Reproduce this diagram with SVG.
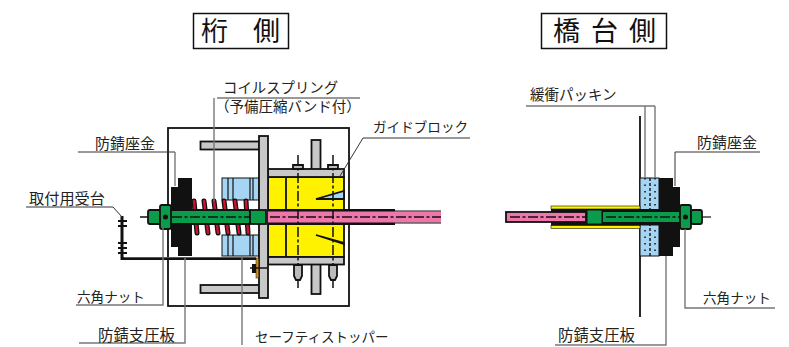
<svg xmlns="http://www.w3.org/2000/svg" width="789" height="347" viewBox="0 0 789 347">
<style>
text{font-family:"Liberation Sans","Noto Sans CJK JP",sans-serif;font-size:14.500px;fill:#222}
.t{font-size:27px;fill:#111}
.tb{fill:#fff;stroke:#111;stroke-width:1.500}
.k{stroke:#111;stroke-width:1.800}
.g{fill:#c8c8c8}.b{fill:#a5d5f2}.y{fill:#fff200}.p{fill:#ee76aa}.gr{fill:#0a9c4a}
.bk{fill:#111}
.l{fill:none;stroke:#333;stroke-width:1}
.lg{fill:none;stroke:#777;stroke-width:1.400}
.cl{fill:none;stroke:#111;stroke-width:1.500;stroke-dasharray:10 2.500 3 2.500}
.sp{fill:none;stroke:#111;stroke-width:5;stroke-linecap:round}
.sr{fill:none;stroke:#d01030;stroke-width:2.400;stroke-linecap:round}
</style>
<g id="title-girder"><rect class="tb" x="193.500" y="13.500" width="95" height="35"/><text class="t" x="201" y="41">桁</text><text class="t" x="253" y="41">側</text></g>
<g id="title-abutment"><rect class="tb" x="541.500" y="13.500" width="125" height="35"/><text class="t" x="553" y="41">橋</text><text class="t" x="591" y="41">台</text><text class="t" x="629" y="41">側</text></g>

<g id="girder-assembly">
<rect x="168" y="128" width="181" height="178" fill="#fff" stroke="#111" stroke-width="1.800"/>
<rect class="g k" x="200.500" y="141.500" width="59" height="8"/>
<rect class="g k" x="200.500" y="285" width="59" height="8"/>
<rect class="g k" x="311.500" y="140" width="9" height="30"/>
<rect class="g k" x="311.500" y="264" width="9" height="30"/>
<rect class="b" x="222" y="178" width="37" height="22" stroke="#111"/>
<rect class="b" x="222" y="235" width="37" height="21" stroke="#111"/>
<path stroke="#111" stroke-width="1.200" fill="none" d="M228 178V200M233 178V200M250 178V200M253 178V200M228 235V256M233 235V256M250 235V256M253 235V256"/>
<rect class="y k" x="268" y="177" width="76" height="80"/>
<path class="k" d="M286 177V257" fill="none"/>
<path class="b k" d="M316 199L344 191V199ZM316 235L344 244V243Z"/>
<rect class="g k" x="268" y="169" width="76" height="8"/>
<rect class="g k" x="268" y="257" width="76" height="7.500"/>
<rect x="259" y="136" width="9" height="162" class="g k"/>
<rect x="268" y="209" width="127" height="16" class="bk"/>
<rect x="268" y="211.500" width="173" height="11" class="p"/>
<path d="M395 211H441M395 223H441" stroke="#111" stroke-width="1"/>
<path d="M270 217H441" class="cl"/>
<path d="M298 155V288M333 155V288" class="cl"/>
<path class="k" fill="#bbb" d="M293 165H303V169H293ZM328 165H338V169H328ZM294 265H302V276L300 280H296L294 276ZM329 265H337V276L335 280H331L329 276Z"/>
<g id="spring"><path class="sp" d="M194 201L197 233M204 201L208 233M214 201L218 233M224 201L228 233M235 201L239 233M246 201L248 233"/><path class="sr" d="M194 201L197 233M204 201L208 233M214 201L218 233M224 201L228 233M235 201L239 233M246 201L248 233"/></g>
<path class="bk" d="M171 187H178V178H192V256H178V247H171Z"/>
<rect class="gr k" x="148" y="210" width="102" height="14" rx="2"/>
<rect class="gr k" x="250" y="210" width="16" height="14"/>
<rect class="gr k" x="160" y="205" width="11" height="24" rx="2"/>
<circle cx="165.500" cy="217" r="2.500" class="bk"/>
<path d="M140 217H148M172 217H250" class="cl"/>
<path d="M122 216V258.500H256" fill="none" stroke="#111" stroke-width="3"/>
<path d="M124 257.500H256" stroke="#7a5510" stroke-width="1"/>
<path d="M118 221H127M118 226H127M118 243H127M118 248H127M118 253H127" stroke="#111" stroke-width="2"/>
<rect x="256" y="258" width="2.800" height="20" fill="#d4921c" stroke="#111" stroke-width="0.500"/>
<path d="M250 268H268" stroke="#111" stroke-width="1.500"/><rect x="252" y="264" width="4" height="9" class="bk"/>
</g>

<g id="abutment-assembly">
<path d="M640 116V317" stroke="#111" stroke-width="1.800"/>
<rect class="b" x="640" y="178" width="19" height="78" stroke="#111"/>
<path d="M650 178V256" stroke="#111" stroke-width="1.400" stroke-dasharray="3 2"/>
<path d="M645 178V256M655 178V256" stroke="#111" stroke-width="1.500" stroke-dasharray="1.500 5"/>
<path class="bk" d="M659 178H673V187H680V247H673V256H659Z"/>
<rect x="551" y="206" width="89" height="3" class="y" stroke="#111" stroke-width="0.600"/>
<rect x="551" y="225.500" width="89" height="3" class="y" stroke="#111" stroke-width="0.600"/>
<rect x="551" y="209" width="129" height="16.500" class="bk"/>
<rect x="506" y="212" width="80" height="10" class="p" stroke="#111" stroke-width="1.800"/>
<rect x="587" y="210" width="15" height="14" class="gr" stroke="#111"/>
<rect x="603" y="212" width="77" height="10" class="gr"/>
<path d="M510 217H586M606 217H680" class="cl"/>
<rect x="680" y="205" width="11" height="24" rx="2" class="gr k"/>
<rect x="691" y="210" width="11" height="14" rx="2" class="gr k"/>
<circle cx="685.500" cy="217" r="2.500" class="bk"/>
<path d="M702 217H711" stroke="#111" stroke-width="1.200"/>
</g>

<g id="connectors">
<path class="l" d="M217 98H360"/>
<path class="lg" d="M214 98V201"/>
<path class="l" d="M78 152H175"/>
<path class="lg" d="M175 152V186"/>
<path class="l" d="M26 207H113L122 217"/>
<path class="lg" d="M76 305H163V228"/>
<path class="lg" d="M79 343H185V258"/>
<path class="lg" d="M242 345V256"/>
<path class="l" d="M470 138H363L340 176"/>
<path class="l" d="M526 106H655"/>
<path class="lg" d="M645 106V178M655 106V178"/>
<path class="l" d="M760 152H675V186"/>
<path class="lg" d="M685 229V308H775"/>
<path class="lg" d="M666 256V345H555"/>
</g>

<g id="labels">
<text x="223" y="93" style="font-size:14.400px">コイルスプリング</text>
<text x="215" y="112">（予備圧縮バンド付）</text>
<text x="95" y="149" style="font-size:15px">防錆座金</text>
<text x="29" y="204" style="font-size:15.200px">取付用受台</text>
<text x="77" y="302" style="font-size:13.600px">六角ナット</text>
<text x="98" y="341" style="font-size:15.400px">防錆支圧板</text>
<text x="255" y="342" style="font-size:13.500px">セーフティストッパー</text>
<text x="373" y="132" style="font-size:13.600px">ガイドブロック</text>
<text x="530" y="100">緩衝パッキン</text>
<text x="697" y="148" style="font-size:15px">防錆座金</text>
<text x="703" y="303" style="font-size:13.600px">六角ナット</text>
<text x="558" y="341" style="font-size:15.400px">防錆支圧板</text>
</g>
</svg>
